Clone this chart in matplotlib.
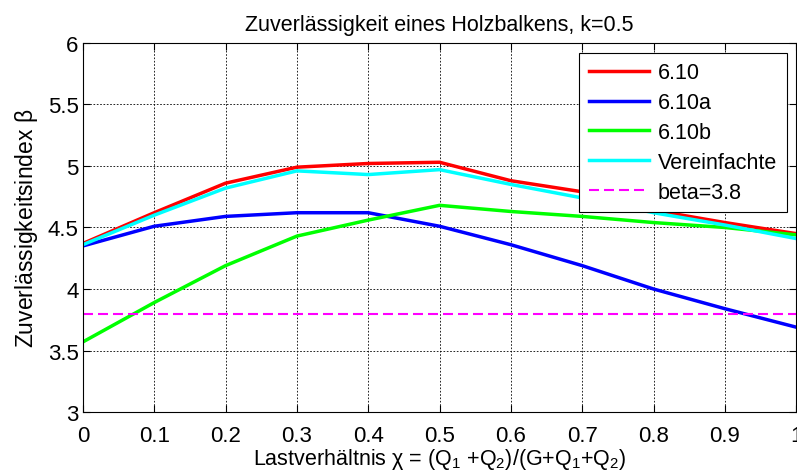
import numpy as np
import matplotlib
matplotlib.use("Agg")
from matplotlib import pyplot

# data
chi = [0.0, 0.1, 0.2, 0.3, 0.4, 0.5, 0.6, 0.7, 0.8, 0.9, 1.0]
beta_610 = [4.37, 4.62, 4.86, 4.99, 5.02, 5.03, 4.88, 4.79, 4.64, 4.54, 4.45]
beta_610a = [4.35, 4.51, 4.59, 4.62, 4.62, 4.51, 4.36, 4.19, 4.00, 3.84, 3.69]
beta_610b = [3.57, 3.89, 4.19, 4.43, 4.56, 4.68, 4.63, 4.59, 4.54, 4.50, 4.44]
beta_simpl = [4.36, 4.60, 4.82, 4.96, 4.93, 4.97, 4.85, 4.74, 4.62, 4.52, 4.41]
beta_target = 3.8

pyplot.rcParams["font.family"] = ["Liberation Sans", "DejaVu Sans"]
pyplot.rcParams["mathtext.fontset"] = "custom"
pyplot.rcParams["mathtext.rm"] = "Liberation Sans"
pyplot.rcParams["mathtext.it"] = "Liberation Sans"

fig = pyplot.figure(figsize=(7.97, 4.77), dpi=100)
ax = fig.add_axes([0.104, 0.134, 0.895, 0.774])

lw = 2.5
ax.plot(chi, beta_610, color="#ff0000", lw=lw, label="6.10")
ax.plot(chi, beta_610a, color="#0000ff", lw=lw, label="6.10a")
ax.plot(chi, beta_610b, color="#00ff00", lw=lw, label="6.10b")
ax.plot(chi, beta_simpl, color="#00ffff", lw=lw, label="Vereinfachte")
ax.plot([chi[0], chi[-1]], [beta_target, beta_target], color="#ff00ff",
        lw=1.5, ls=(0, (4.8, 2.4)), label="beta=3.8")

ax.set_xlim(0, 1)
ax.set_ylim(3, 6)
ax.set_xticks(np.arange(0, 1.01, 0.1))
ax.set_xticklabels(["0", "0.1", "0.2", "0.3", "0.4", "0.5", "0.6", "0.7", "0.8", "0.9", "1"])
ax.set_yticks(np.arange(3, 6.01, 0.5))
ax.set_yticklabels(["3", "3.5", "4", "4.5", "5", "5.5", "6"])
ax.tick_params(direction="in", top=True, right=True, labelsize=16, length=5)
ax.tick_params(axis="x", pad=9)
ax.tick_params(axis="y", pad=3)
ax.grid(True, color="black", ls=(0, (2, 2)), lw=0.6)
for s in ax.spines.values():
    s.set_linewidth(0.8)

ax.set_title("Zuverlässigkeit eines Holzbalkens, k=0.5", fontsize=15.5, pad=9)
ax.set_xlabel(r"Lastverhältnis $\chi$ = (Q$_1$ +Q$_2$)/(G+Q$_1$+Q$_2$)", fontsize=15.5, labelpad=0)
ax.set_ylabel(r"Zuverlässigkeitsindex $\beta$", fontsize=16.5, labelpad=6)

leg = ax.legend(loc="upper right", fontsize=15.5, handlelength=2.8, fancybox=False,
                framealpha=1, edgecolor="black", borderaxespad=0.45,
                labelspacing=0.41, borderpad=0.45, handletextpad=0.4)
leg.get_frame().set_linewidth(0.8)

fig.savefig("out.png", dpi=100)
